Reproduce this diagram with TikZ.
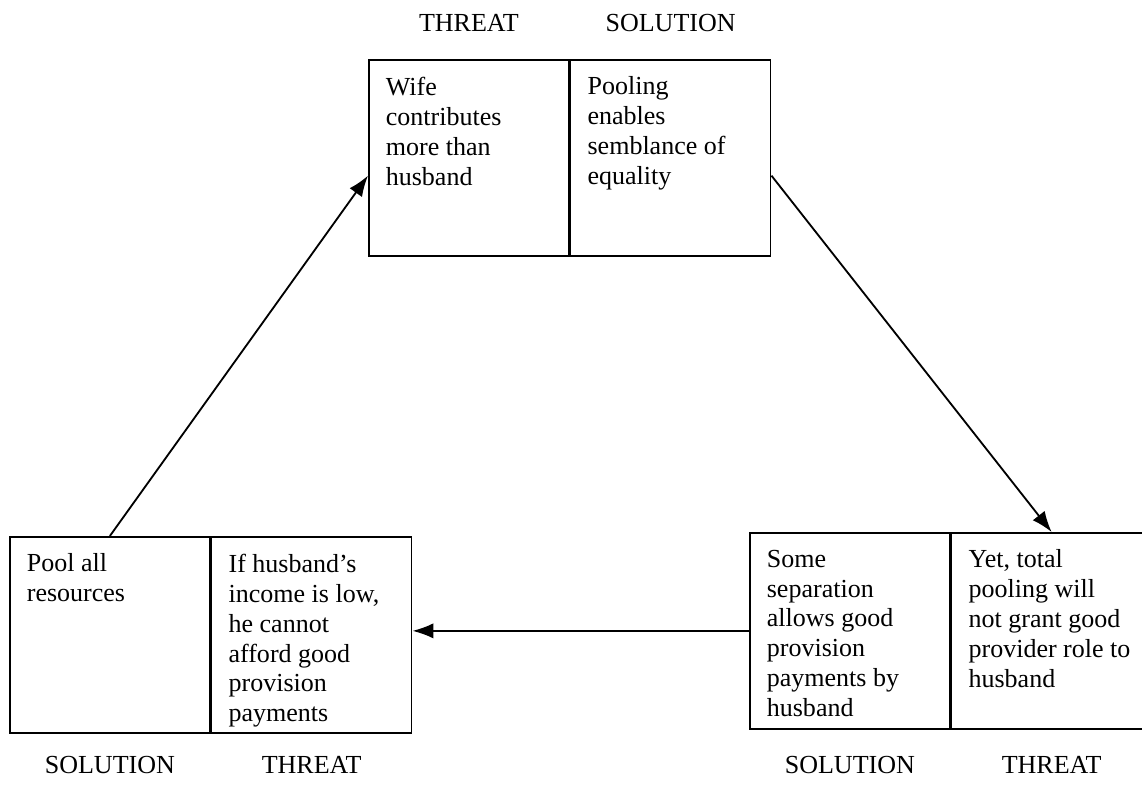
\documentclass[tikz,border=0pt]{standalone}
\usepackage{fontspec}
\setmainfont{Liberation Serif}
\usetikzlibrary{arrows.meta, positioning}
\newcommand{\cellfont}{\fontsize{18.5}{21.3}\selectfont}
\newcommand{\cell}[1]{\parbox[t][4.05cm][t]{4.15cm}{\raggedright #1}}
\tikzset{
  half/.style={draw, line width=1.2pt, anchor=north west, inner sep=0.425cm, font=\cellfont},
  tag/.style={inner sep=0pt, font=\cellfont},
  arrow/.style={-{Latex[length=0.52cm, width=0.38cm]}, line width=1.3pt}
}

\begin{document}
\begin{tikzpicture}[x=0.025cm, y=-0.025cm]
\useasboundingbox (0,0) rectangle (1142,788);
% top pair
\node[half] (topThreat) at (368,59) {\cell{Wife\\contributes\\more than\\husband}};
\node[half, right=0pt of topThreat] (topSol) {\cell{Pooling\\enables\\semblance of\\equality}};
% left pair
\node[half] (leftSol) at (9,536) {\cell{Pool all\\resources}};
\node[half, right=0pt of leftSol] (leftThreat) {\cell{If husband's\\income is low,\\he cannot\\afford good\\provision\\payments}};
% right pair
\node[half] (rightSol) at (749,532) {\cell{Some\\separation\\allows good\\provision\\payments by\\husband}};
\node[half, right=0pt of rightSol] (rightThreat) {\cell{Yet, total\\pooling will\\not grant good\\provider role to\\husband}};
% headings
\node[tag, above=0.675cm of topThreat] (tagTopThreat) {THREAT};
\node[tag, above=0.675cm of topSol] (tagTopSol) {SOLUTION};
\node[tag, below=0.55cm of leftSol] (tagLeftSol) {SOLUTION};
\node[tag, below=0.55cm of leftThreat] (tagLeftThreat) {THREAT};
\node[tag, below=0.65cm of rightSol] (tagRightSol) {SOLUTION};
\node[tag, below=0.65cm of rightThreat] (tagRightThreat) {THREAT};
% cycle
\draw[arrow] (leftSol.north) -- (topThreat.190);
\draw[arrow] (topSol.-10) -- (rightThreat.north);
\draw[arrow] (rightSol.west) -- (rightSol.west -| leftThreat.east);
\end{tikzpicture}
\end{document}
